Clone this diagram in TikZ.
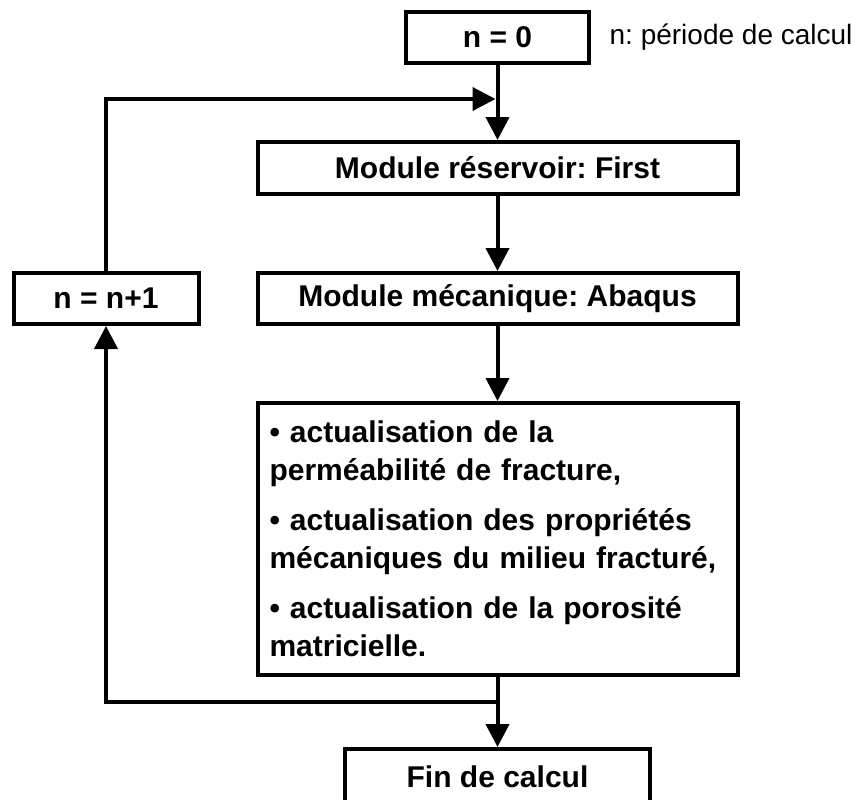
\documentclass[tikz,border=0pt]{standalone}
\usepackage{fontspec}
\setmainfont{Liberation Sans}
\frenchspacing
\usetikzlibrary{arrows.meta,positioning}
\newcommand{\boxfont}{\fontsize{15pt}{19pt}\selectfont\bfseries}

\begin{document}
\begin{tikzpicture}[node distance=37.5pt, line width=2pt, every node/.style={draw, minimum height=25.5pt, inner sep=0pt, font=\boxfont}, ->, >={Triangle[length=11.5pt,width=11.5pt]}]
\useasboundingbox (0,0) rectangle (427.5pt,-399.5pt);
\node (start) [minimum width=91.5pt] at (248.75pt,-18.75pt) {n = 0};
\node (legend) [right=5pt of start, draw=none, inner sep=3.33pt, font=\fontsize{14pt}{17pt}\selectfont] {n: période de calcul};
\node (reservoir) [below=of start, minimum width=240pt, minimum height=26pt] {Module réservoir: First};
\node (meca) [below=of reservoir, minimum width=240pt] {Module mécanique: Abaqus};
\node (update) [below=of meca, text width=228pt, inner xsep=6pt, minimum height=136pt, align=left] {• actualisation de la\\ perméabilité de fracture,\\[6pt] • actualisation des propriétés\\ mécaniques du milieu fracturé,\\[6pt] • actualisation de la porosité\\ matricielle.};
\node (finish) [below=35pt of update, minimum width=152.5pt, minimum height=27.5pt] {Fin de calcul};
\node (incr) [left=27.5pt of meca, minimum width=92.5pt] {n = n+1};
\coordinate [below=17pt of start] (looptop);
\coordinate [below=12.5pt of update] (loopbot);
\draw (start) -- (reservoir);
\draw (reservoir) -- (meca);
\draw (meca) -- (update);
\draw (update) -- (finish);
\draw (loopbot) -| (incr);
\draw[shorten >=1pt] (incr) |- (looptop);
\end{tikzpicture}
\end{document}
